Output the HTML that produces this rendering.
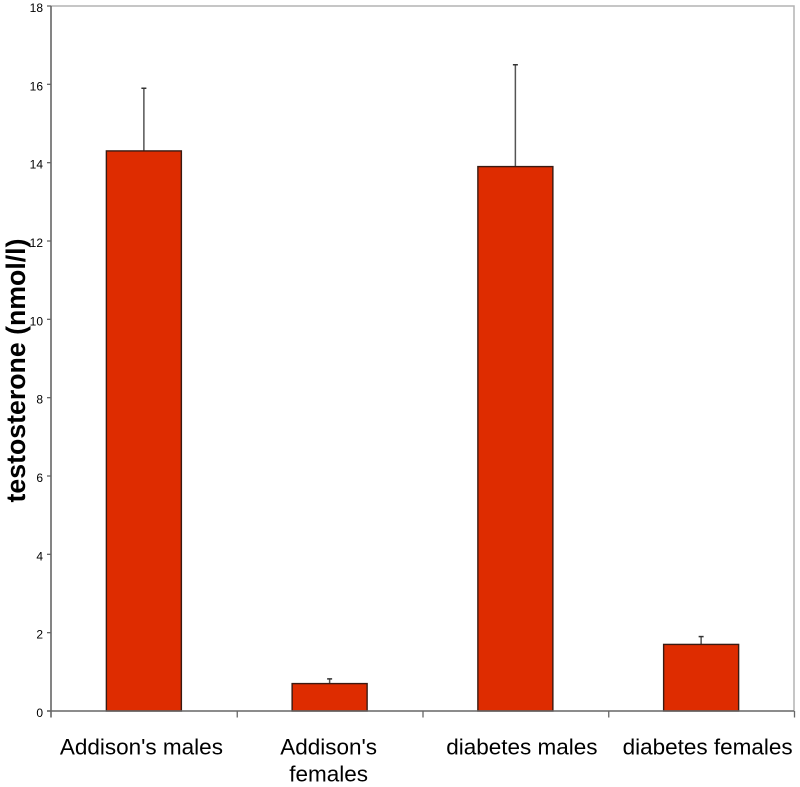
<!DOCTYPE html>
<html>
<head>
<meta charset="utf-8">
<style>
html,body{margin:0;padding:0;background:#fff;width:800px;height:787px;overflow:hidden}
svg{display:block;font-family:"Liberation Sans",Arial,sans-serif}
</style>
</head>
<body>
<svg id="chart" width="800" height="787" viewBox="0 0 800 787" xmlns="http://www.w3.org/2000/svg"></svg>
<script>
const categories = [["Addison's males"], ["Addison's", "females"], ["diabetes males"], ["diabetes females"]];
const meanValues = [14.3, 0.7, 13.9, 1.7];
const errorUpper = [15.9, 0.82, 16.5, 1.9];
const yTicks = [0, 2, 4, 6, 8, 10, 12, 14, 16, 18];
const yTitle = "testosterone (nmol/l)";

const NS = "http://www.w3.org/2000/svg";
const svg = document.getElementById("chart");
const plot = {left: 51, right: 794, top: 6, bottom: 711};
const yMax = 18;
const bandW = (plot.right - plot.left) / categories.length;
const barW = 75;

function yScale(v) { return plot.bottom - (v / yMax) * (plot.bottom - plot.top); }
function xBand(i) { return plot.left + bandW * i; }
function xCenter(i) { return xBand(i) + bandW / 2; }
function labelCenter(i) {
  // category labels sit slightly off their bands in the original
  if (i === 0) return xCenter(i) - 2.5;
  if (i === 1) return xCenter(i) - 1;
  return xCenter(i) + 6.5;
}
function make(tag, attrs, parent) {
  const el = document.createElementNS(NS, tag);
  for (const k in attrs) el.setAttribute(k, attrs[k]);
  (parent || svg).appendChild(el);
  return el;
}

// top and right plot border
const borderEl = make("path", {d: `M${plot.left} ${plot.top}H${plot.right}V${plot.bottom}`, fill: "none", stroke: "#b4b4b4", "stroke-width": 1.5});



// error bars (behind bars)
categories.forEach((c, i) => {
  const g = make("g", {});
  
  
  const x = xCenter(i);
  make("line", {x1: x, x2: x, y1: yScale(meanValues[i]), y2: yScale(errorUpper[i]), stroke: "#555", "stroke-width": 1.5}, g);
  make("line", {x1: x - 2.5, x2: x + 2.5, y1: yScale(errorUpper[i]), y2: yScale(errorUpper[i]), stroke: "#333", "stroke-width": 1.5}, g);
});

// bars
categories.forEach((c, i) => {
  const top = yScale(meanValues[i]);
  const bar = make("rect", {x: xCenter(i) - barW / 2, y: top, width: barW, height: plot.bottom - top, fill: "#de2c00", stroke: "#3a1a12", "stroke-width": 1.4});
  
  
});

// axes
const yAxis = make("line", {x1: plot.left, x2: plot.left, y1: plot.top, y2: plot.bottom + 6.5, stroke: "#666", "stroke-width": 1.6});


const xAxis = make("line", {x1: plot.left - 4, x2: plot.right, y1: plot.bottom, y2: plot.bottom, stroke: "#666", "stroke-width": 1.5});



// y ticks
yTicks.forEach(t => {
  const y = yScale(t);
  const tick = make("line", {x1: plot.left - 4, x2: plot.left, y1: y, y2: y, stroke: "#666", "stroke-width": 1.3});
  
  
  const label = make("text", {x: 43, y: y + 6, "text-anchor": "end", "font-size": 12, fill: "#000"});
  label.textContent = t;
  
  
});

// x ticks
for (let i = 1; i <= categories.length; i++) {
  const x = xBand(i) + 0.5;
  const tick = make("line", {x1: x, x2: x, y1: plot.bottom, y2: plot.bottom + 6.5, stroke: "#666", "stroke-width": 1.3});
  
  
}

// category labels
categories.forEach((lines, i) => {
  lines.forEach((line, j) => {
    const label = make("text", {x: labelCenter(i), y: 754.5 + j * 27, "text-anchor": "middle", "font-size": 22.5, fill: "#000"});
    label.textContent = line;
    
    
  });
});

// y axis title
const title = make("text", {x: 0, y: 0, transform: "translate(25 370.5) rotate(-90)", "text-anchor": "middle", "font-size": 26.7, "font-weight": "bold", fill: "#000"});
title.textContent = yTitle;


</script>
</body>
</html>
